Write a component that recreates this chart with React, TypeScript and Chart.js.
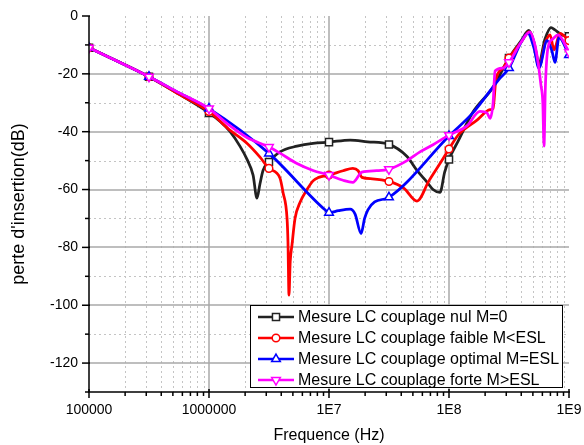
import React, { useEffect, useRef } from 'react';
import { Chart, registerables } from 'chart.js';

Chart.register(...registerables);

const FONT = "'Liberation Sans', Arial, Helvetica, sans-serif";

// Axis ticks
const FREQ_TICKS = [1e5, 1e6, 1e7, 1e8, 1e9];
const FREQ_TICK_LABELS = ['100000', '1000000', '1E7', '1E8', '1E9'];
const DB_TICKS = [0, -20, -40, -60, -80, -100, -120];
const DB_MINOR = [-10, -30, -50, -70, -90, -110, -130];
const MARKER_FREQS = [1e5, 3.16e5, 1e6, 3.16e6, 1e7, 3.16e7, 1e8, 3.16e8, 1e9];

const LABELS = [
  'Mesure LC couplage nul M=0',
  'Mesure LC couplage faible M<ESL',
  'Mesure LC couplage optimal M=ESL',
  'Mesure LC couplage forte M>ESL',
];

// Series: couplage nul (black)
const nulFreq = [1e5, 3.16e5, 5.6e5, 1e6, 1.24e6, 1.5e6, 1.81e6, 2.07e6, 2.33e6, 2.51e6, 2.66e6, 2.82e6, 3.16e6, 3.9e6, 5.41e6, 7.36e6, 1e7, 1.5e7, 2.1e7, 3.16e7, 4.47e7, 5.41e7, 6.56e7, 7.36e7, 8.41e7, 9.2e7, 1e8, 1.2e8, 1.58e8, 2.33e8, 3.16e8, 4e8, 4.63e8, 5.1e8, 5.62e8, 6.3e8, 7.08e8, 7.64e8, 8.75e8, 1e9];
const nulDb = [-11, -21, -27, -33.5, -36.5, -40, -45, -49.5, -55, -63, -58, -53.4, -50.5, -47, -45, -44, -43.6, -42.9, -43.5, -44.4, -48.6, -53.4, -57.4, -60, -61, -54, -49.6, -43, -33.3, -24.6, -14.5, -8.5, -5, -9, -16.2, -8, -4, -4.8, -6.6, -7];

// Series: couplage faible (red)
const faibleFreq = [1e5, 3.16e5, 5.6e5, 1e6, 1.5e6, 2.07e6, 2.66e6, 3.16e6, 3.9e6, 4.14e6, 4.47e6, 4.55e6, 4.64e6, 4.75e6, 4.92e6, 5.21e6, 5.73e6, 6.56e6, 7.36e6, 8.2e6, 1e7, 1.31e7, 1.58e7, 1.75e7, 1.88e7, 2.3e7, 3.16e7, 4.2e7, 5.41e7, 6.8e7, 8.41e7, 1e8, 1.2e8, 1.71e8, 2.2e8, 2.33e8, 2.46e8, 2.82e8, 3.16e8, 4e8, 4.63e8, 5.1e8, 5.62e8, 6.31e8, 6.95e8, 7.5e8, 8.41e8, 1e9];
const faibleDb = [-11, -21, -27, -33, -39.5, -44, -48.8, -52.7, -56, -61, -70, -78, -96.5, -85, -79, -70, -64.5, -60, -57, -55.8, -55, -53.5, -52.7, -53.5, -55.8, -56.3, -57.2, -59.5, -64, -57, -51, -46, -41, -36, -32.4, -32, -22, -18, -14.5, -9, -5.5, -10, -17.5, -9.5, -6.5, -11.7, -6, -8.5];

// Series: couplage optimal (blue)
const optimalFreq = [1e5, 3.16e5, 5.6e5, 1e6, 3.16e6, 9.26e6, 1e7, 1.2e7, 1.5e7, 1.65e7, 1.85e7, 1.98e7, 2.11e7, 2.4e7, 3.16e7, 1e8, 1.58e8, 2.6e8, 3.16e8, 4e8, 4.55e8, 5.1e8, 5.62e8, 6.56e8, 7.2e8, 7.64e8, 8.25e8, 1e9];
const optimalDb = [-11, -21, -26.5, -32, -47.5, -67, -68, -67.3, -66.8, -68.5, -75.2, -70, -67, -64.3, -62.7, -41.5, -33.5, -22, -18, -9, -6, -11, -18, -8.5, -12, -16, -7.5, -13.5];

// Series: couplage forte (magenta)
const forteFreq = [1e5, 3.16e5, 5.6e5, 1e6, 1.5e6, 2.07e6, 3.16e6, 3.9e6, 5.41e6, 7.36e6, 1e7, 1.31e7, 1.58e7, 1.88e7, 2.5e7, 3.16e7, 4.47e7, 5.73e7, 7.36e7, 1e8, 1.41e8, 1.81e8, 2.07e8, 2.2e8, 2.33e8, 2.42e8, 2.82e8, 3.16e8, 4e8, 4.73e8, 5.2e8, 5.52e8, 5.84e8, 6.05e8, 6.19e8, 6.35e8, 6.68e8, 7.3e8, 8.1e8, 1e9];
const forteDb = [-11, -21, -26.5, -32, -38, -42, -45.3, -47.4, -51, -53.4, -55, -56.8, -57.5, -54, -53.5, -53, -50, -47, -44.5, -41.2, -38, -33, -33.5, -35.4, -30, -19, -18, -16, -9, -5.5, -10, -16, -24, -30, -45, -25, -11, -8, -6.5, -12.5];

const SERIES = [
  { label: LABELS[0], freq: nulFreq, db: nulDb, color: '#222222', style: 'rect', radius: 5, rotation: 0, order: 3 },
  { label: LABELS[1], freq: faibleFreq, db: faibleDb, color: '#ff0000', style: 'circle', radius: 3.8, rotation: 0, order: 2 },
  { label: LABELS[2], freq: optimalFreq, db: optimalDb, color: '#0000ff', style: 'triangle', radius: 5, rotation: 0, order: 1 },
  { label: LABELS[3], freq: forteFreq, db: forteDb, color: '#ff00ff', style: 'triangle', radius: 5, rotation: 180, order: 0 },
];

function isMarker(f: number) {
  return MARKER_FREQS.some((m) => Math.abs(Math.log10(f / m)) < 0.004);
}

function drawMarker(ctx: CanvasRenderingContext2D, style: string, rotation: number, cx: number, cy: number, r: number, color: string) {
  ctx.save();
  ctx.fillStyle = '#ffffff';
  ctx.strokeStyle = color;
  ctx.lineWidth = 1.5;
  ctx.beginPath();
  if (style === 'rect') {
    const s = r * Math.SQRT1_2;
    ctx.rect(cx - s, cy - s, 2 * s, 2 * s);
  } else if (style === 'circle') {
    ctx.arc(cx, cy, r, 0, Math.PI * 2);
  } else {
    let a = (rotation * Math.PI) / 180;
    ctx.moveTo(cx + Math.sin(a) * r, cy - Math.cos(a) * r);
    a += (2 * Math.PI) / 3;
    ctx.lineTo(cx + Math.sin(a) * r, cy - Math.cos(a) * r);
    a += (2 * Math.PI) / 3;
    ctx.lineTo(cx + Math.sin(a) * r, cy - Math.cos(a) * r);
    ctx.closePath();
  }
  ctx.fill();
  ctx.stroke();
  ctx.restore();
}

const gridPlugin = {
  id: 'originGrid',
  beforeDatasetsDraw(chart: any) {
    const { ctx, chartArea, scales } = chart;
    const { left, right, top, bottom } = chartArea;
    const x = scales.x;
    const y = scales.y;
    ctx.save();
    // minor dotted grid
    ctx.lineWidth = 1;
    ctx.strokeStyle = '#c4c4c4';
    ctx.setLineDash([2, 3]);
    for (let d = 5; d < 9; d++) {
      for (let k = 2; k <= 9; k++) {
        const px = Math.round(x.getPixelForValue(k * Math.pow(10, d))) + 0.5;
        ctx.beginPath();
        ctx.moveTo(px, top);
        ctx.lineTo(px, bottom);
        ctx.stroke();
      }
    }
    for (const v of DB_MINOR) {
      if (v <= -130) continue;
      const py = Math.round(y.getPixelForValue(v)) + 0.5;
      ctx.beginPath();
      ctx.moveTo(left, py);
      ctx.lineTo(right, py);
      ctx.stroke();
    }
    // major solid grid
    ctx.setLineDash([]);
    ctx.lineWidth = 1.5;
    ctx.strokeStyle = '#a9a9a9';
    for (const v of FREQ_TICKS) {
      if (v === 1e5 || v === 1e9) continue;
      const px = Math.round(x.getPixelForValue(v));
      ctx.beginPath();
      ctx.moveTo(px, top);
      ctx.lineTo(px, bottom);
      ctx.stroke();
    }
    for (const v of DB_TICKS) {
      if (v === 0) continue;
      const py = Math.round(y.getPixelForValue(v));
      ctx.beginPath();
      ctx.moveTo(left, py);
      ctx.lineTo(right, py);
      ctx.stroke();
    }
    ctx.restore();
  },
  afterDatasetsDraw(chart: any) {
    const { ctx, chartArea, scales } = chart;
    const { left, right, top, bottom } = chartArea;
    const x = scales.x;
    const y = scales.y;
    ctx.save();
    ctx.strokeStyle = '#000000';
    ctx.lineWidth = 1.5;
    // axes lines
    ctx.beginPath();
    ctx.moveTo(left, top);
    ctx.lineTo(left, bottom);
    ctx.lineTo(right + 1, bottom);
    ctx.stroke();
    // x ticks
    for (let d = 5; d <= 9; d++) {
      const px = x.getPixelForValue(Math.pow(10, d));
      ctx.beginPath();
      ctx.moveTo(px, bottom - 3);
      ctx.lineTo(px, bottom + 6);
      ctx.stroke();
      if (d < 9) {
        for (let k = 2; k <= 9; k++) {
          const mx = x.getPixelForValue(k * Math.pow(10, d));
          ctx.beginPath();
          ctx.moveTo(mx, bottom);
          ctx.lineTo(mx, bottom + 4);
          ctx.stroke();
        }
      }
    }
    // y ticks
    for (const v of DB_TICKS) {
      const py = y.getPixelForValue(v);
      ctx.beginPath();
      ctx.moveTo(left - 7, py);
      ctx.lineTo(left + 1, py);
      ctx.stroke();
    }
    for (const v of DB_MINOR) {
      const py = y.getPixelForValue(v);
      ctx.beginPath();
      ctx.moveTo(left - 4, py);
      ctx.lineTo(left, py);
      ctx.stroke();
    }
    ctx.restore();

    // legend box
    const bx = 250.5, by = 305.5, bw = 312, bh = 82;
    ctx.save();
    ctx.fillStyle = '#ffffff';
    ctx.fillRect(bx, by, bw, bh);
    ctx.strokeStyle = '#000000';
    ctx.lineWidth = 1;
    ctx.strokeRect(bx, by, bw, bh);
    ctx.font = `16px ${FONT}`;
    ctx.textBaseline = 'middle';
    ctx.textAlign = 'left';
    SERIES.forEach((s, i) => {
      const cy = 317 + i * 21;
      ctx.strokeStyle = s.color;
      ctx.lineWidth = 2.5;
      ctx.beginPath();
      ctx.moveTo(258, cy);
      ctx.lineTo(294, cy);
      ctx.stroke();
      drawMarker(ctx, s.style, s.rotation, 276, cy, s.radius, s.color);
      ctx.fillStyle = '#000000';
      ctx.fillText(s.label, 298, cy + 1);
    });
    ctx.restore();
  },
};

export default function App() {
  const ref = useRef<HTMLCanvasElement>(null);
  useEffect(() => {
    document.body.style.margin = '0';
    const datasets = SERIES.map((s) => ({
      label: s.label,
      data: s.freq.map((f, i) => ({ x: f, y: s.db[i] })),
      borderColor: s.color,
      backgroundColor: '#ffffff',
      borderWidth: 2.75,
      cubicInterpolationMode: 'monotone' as const,
      pointStyle: s.style,
      rotation: s.rotation,
      pointRadius: s.freq.map((f) => (isMarker(f) ? s.radius : 0)),
      pointHoverRadius: 0,
      pointBorderColor: s.color,
      pointBackgroundColor: '#ffffff',
      pointBorderWidth: 1.5,
      order: s.order,
    }));
    const chart = new Chart(ref.current!, {
      type: 'line',
      data: { datasets },
      plugins: [gridPlugin],
      options: {
        animation: false,
        responsive: false,
        devicePixelRatio: 1,
        layout: { padding: { left: 0, right: 15, top: 16, bottom: 0 } },
        plugins: { legend: { display: false }, tooltip: { enabled: false } },
        events: [],
        scales: {
          x: {
            type: 'logarithmic',
            min: 1e5,
            max: 1e9,
            afterBuildTicks: (s: any) => {
              s.ticks = FREQ_TICKS.map((v) => ({ value: v }));
            },
            afterFit: (s: any) => {
              s.height = 53;
              s.paddingLeft = 0;
              s.paddingRight = 0;
            },
            grid: { display: false, drawTicks: false, tickLength: 0 },
            border: { display: false },
            ticks: {
              autoSkip: false,
              maxRotation: 0,
              minRotation: 0,
              padding: 10,
              color: '#000000',
              font: { family: FONT, size: 14 },
              callback: (_v: any, i: number) => FREQ_TICK_LABELS[i],
            },
            title: {
              display: true,
              text: 'Frequence (Hz)',
              color: '#000000',
              font: { family: FONT, size: 16 },
              padding: { top: 0, bottom: 0 },
            },
          },
          y: {
            type: 'linear',
            min: -130,
            max: 0,
            afterBuildTicks: (s: any) => {
              s.ticks = DB_TICKS.map((v) => ({ value: v }));
            },
            afterFit: (s: any) => {
              s.width = 89;
              s.paddingTop = 0;
              s.paddingBottom = 0;
            },
            grid: { display: false, drawTicks: false, tickLength: 0 },
            border: { display: false },
            ticks: {
              padding: 11,
              color: '#000000',
              font: { family: FONT, size: 14 },
              callback: (v: any) => String(v),
            },
            title: {
              display: true,
              text: "perte d'insertion(dB)",
              color: '#000000',
              font: { family: FONT, size: 18 },
              padding: { top: 8, bottom: 0 },
            },
          },
        },
      } as any,
    });
    return () => chart.destroy();
  }, []);
  return (
    <div style={{ position: 'absolute', left: 0, top: 0, width: 584, height: 445, background: '#ffffff' }}>
      <canvas ref={ref} width={584} height={445} />
    </div>
  );
}
